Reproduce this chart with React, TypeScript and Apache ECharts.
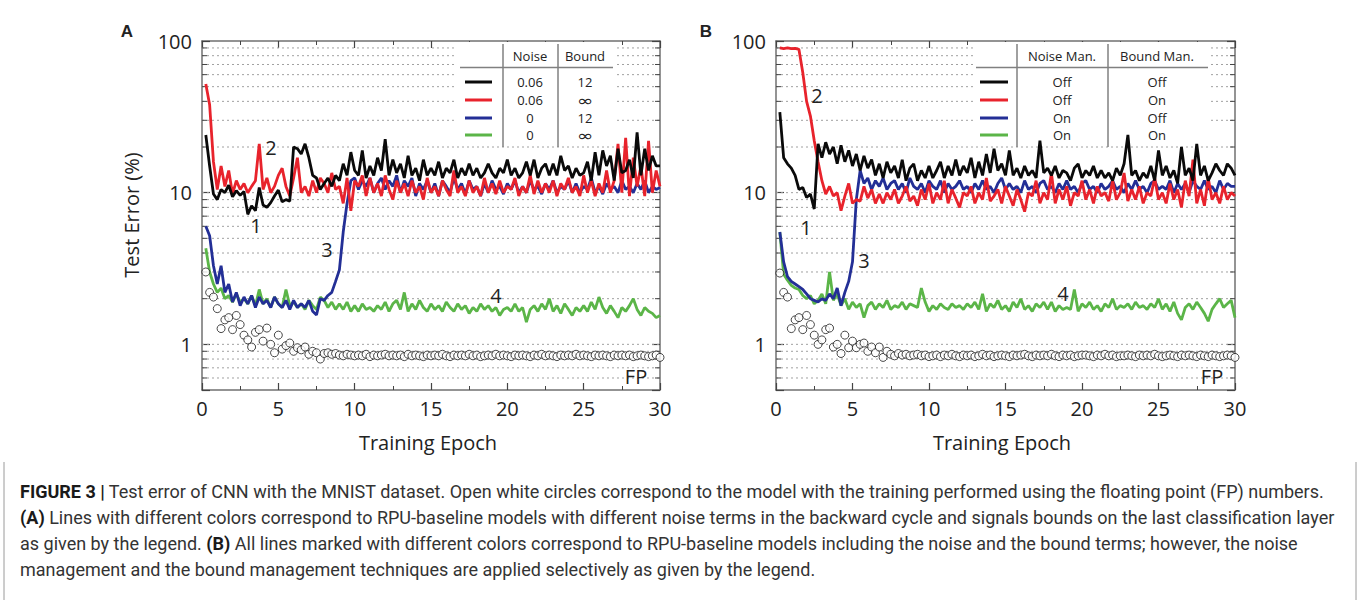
import React, { useEffect, useRef } from 'react';
import * as echarts from 'echarts';

// ---------- data (epochs 0.25 .. 30 step 0.25) ----------
const epochs: number[] = Array.from({ length: 120 }, (_, i) => (i + 1) * 0.25);

// Panel A
const aBlack = [
  24, 15, 9.8, 9.0, 10.5, 10.0, 11.2, 9.4, 10.3, 9.6,
  10.2, 7.2, 8.2, 7.6, 10.8, 8.3, 8.0, 8.6, 9.5, 10.4,
  8.7, 9.0, 8.8, 20.0, 19.5, 18.0, 21.0, 17.0, 13.0, 12.5,
  10.5, 11.5, 12.5, 11.0, 13.0, 12.0, 15.5, 13.0, 18.5, 14.0,
  13.0, 19.0, 12.5, 15.0, 13.0, 17.0, 14.0, 22.5, 13.0, 16.5,
  13.5, 15.5, 12.5, 17.5, 13.0, 14.5, 12.0, 16.5, 13.0, 14.5,
  13.0, 16.0, 12.5, 14.5, 13.5, 16.5, 12.5, 14.5, 13.0, 15.5,
  13.0, 14.5, 12.5, 13.5, 15.5, 13.5, 12.5, 14.5, 13.5, 16.5,
  13.0, 14.5, 12.5, 13.5, 16.0, 13.0, 16.5, 12.5, 14.5, 15.5,
  13.0, 15.5, 13.0, 17.5, 14.0, 15.0, 12.5, 14.5, 13.0, 13.5,
  16.0, 12.0, 18.5, 13.0, 19.0, 15.0, 17.5, 12.0, 19.5, 13.5,
  14.0, 16.5, 12.5, 25.0, 13.0, 19.5, 14.0, 17.5, 15.0, 15.0,
];
const aRed = [
  52, 38, 16, 10.5, 15, 11, 14, 9.8, 12, 10.5,
  11.5, 10, 11, 12, 21, 10.5, 12.5, 10, 11, 13,
  14.5, 11, 9.5, 12.5, 17, 10, 11, 9.5, 12, 10,
  12.5, 11.5, 10, 13.5, 10.5, 11, 8.5, 12.5, 7.6, 12,
  11, 13, 9.5, 12.5, 10, 11.5, 9.5, 13, 10.5, 9,
  12, 10, 11.5, 9.5, 12, 10, 11, 9, 12.5, 10,
  11, 9.5, 12, 10.5, 9.5, 14, 10, 11, 9.5, 12,
  10, 11, 9.5, 12.5, 10, 11.5, 9.8, 12, 10, 11,
  10.5, 12.5, 9.5, 11, 10, 13, 9.8, 12, 10, 11.5,
  10, 12, 9.5, 11.5, 10.5, 12.5, 10, 11, 9.5, 13,
  10, 12, 9.5, 11.5, 10, 14, 10, 12, 21, 10,
  23, 9.5, 17, 11, 15, 9.5, 22, 10, 14, 11,
];
const aBlue = [
  6, 5.2, 3.3, 2.5, 3.3, 2.2, 2.5, 1.9, 2.2, 1.8,
  2.05, 1.85, 2.1, 1.75, 2.05, 1.85, 1.95, 1.75, 2.05, 1.85,
  1.75, 1.95, 1.7, 1.95, 1.75, 1.85, 1.75, 1.95, 1.65, 1.56,
  2.0, 1.95, 2.1, 2.2, 2.6, 3.1, 5.5, 8.5, 12.0, 12.5,
  10.5, 12, 11, 12.5, 10, 11.5, 12.5, 10.5, 12, 11,
  13, 10, 12, 11, 12.5, 9.5, 11.5, 10.5, 12, 10,
  11.5, 9.5, 12, 11, 10, 12.5, 10.5, 11.5, 9.8, 12,
  10.5, 11, 9.5, 11.5, 10, 12, 10.5, 11, 9.8, 11.5,
  10.5, 12, 10, 11, 10, 12, 10.5, 11, 9.8, 11.5,
  10.5, 12, 10, 11, 10.5, 12, 10, 11.5, 10, 11,
  10.5, 12.5, 10, 11, 9.8, 11.5, 10.5, 11, 10, 12,
  10.5, 11, 10, 11.5, 10.5, 12, 10, 11, 10.5, 10.8,
];
const aGreen = [
  4.3, 3.0, 2.5, 2.2, 2.35, 2.0, 2.1, 1.9, 2.15, 1.9,
  2.0, 1.85, 2.1, 1.8, 2.3, 1.85, 2.0, 1.75, 2.05, 1.85,
  1.75, 2.3, 1.8, 1.9, 1.75, 1.85, 1.7, 1.95, 1.8, 1.7,
  2.05, 1.95, 1.75, 1.9, 1.7, 1.85, 1.7, 1.9, 1.65, 1.8,
  1.65, 1.85, 1.7, 1.75, 1.65, 1.8, 1.7, 1.9, 1.65, 1.85,
  1.95, 1.7, 2.2, 1.65, 1.85, 1.7, 1.95, 1.75, 1.65, 1.85,
  1.7, 1.8, 1.65, 1.9, 1.75, 1.65, 1.85, 1.7, 1.8, 1.6,
  1.75, 1.65, 1.85, 1.7, 1.8, 1.65, 1.75, 1.55, 1.7, 1.75,
  1.65, 1.85, 1.65, 1.75, 1.4, 1.7, 1.8, 1.65, 1.85, 1.7,
  2.0, 1.65, 1.8, 1.6, 1.85, 1.7, 1.55, 1.75, 1.65, 1.8,
  1.65, 1.9, 1.7, 2.05, 1.75, 1.6, 1.8, 1.65, 1.5, 1.75,
  1.65, 1.8, 2.0, 1.7, 1.55, 1.75, 1.65, 1.6, 1.5, 1.55,
];
const aFP = [
  3.0, 2.2, 2.05, 1.72, 1.27, 1.45, 1.5, 1.25, 1.55, 1.35,
  1.15, 1.07, 0.96, 1.2, 1.25, 1.05, 1.28, 1.0, 0.88, 1.15,
  0.93, 0.98, 1.02, 0.9, 0.95, 0.92, 0.96, 0.86, 0.9, 0.88,
  0.8, 0.87, 0.88, 0.86, 0.87, 0.85, 0.84, 0.86, 0.85, 0.84,
  0.85, 0.84, 0.86, 0.83, 0.85, 0.84, 0.85, 0.86, 0.84, 0.85,
  0.84, 0.85, 0.83, 0.86, 0.84, 0.85, 0.84, 0.83, 0.85, 0.84,
  0.85, 0.84, 0.86, 0.84, 0.83, 0.85, 0.84, 0.85, 0.84, 0.86,
  0.84, 0.85, 0.83, 0.84, 0.85, 0.84, 0.86, 0.84, 0.85, 0.84,
  0.83, 0.85, 0.84, 0.85, 0.84, 0.83, 0.85, 0.84, 0.86, 0.84,
  0.85, 0.84, 0.83, 0.85, 0.84, 0.85, 0.84, 0.86, 0.84, 0.85,
  0.84, 0.83, 0.85, 0.84, 0.85, 0.84, 0.83, 0.85, 0.84, 0.85,
  0.84, 0.85, 0.83, 0.84, 0.85, 0.84, 0.83, 0.84, 0.85, 0.82,
];

// Panel B
const bBlack = [
  34, 17, 15.5, 14.5, 13, 10.5, 10.8, 9.3, 9.8, 7.8,
  21, 17, 21.5, 18, 20, 15.5, 20.5, 16, 19, 15,
  18, 14, 17.5, 14.5, 16.5, 13, 15.5, 12.5, 16, 13.5,
  15, 12.5, 16.5, 12, 14.5, 15.5, 12, 14, 12.5, 15,
  12.5, 14, 16, 12.5, 15, 13, 16.5, 13, 15, 13.5,
  17, 12.5, 16, 13, 18, 13.5, 19.5, 14, 15.5, 13,
  19, 13, 14.5, 12.5, 15, 13, 14, 12.5, 22, 13.5,
  14.5, 13, 15, 12.5, 14, 13.5, 12, 14.5, 15.5, 12.5,
  14, 13, 15, 12.5, 14, 12.5, 13.5, 12, 14.5, 13,
  15.5, 24, 13, 14, 12, 13.5, 12.5, 15, 12, 19,
  13, 15, 12.5, 14, 11.5, 20, 13, 14.5, 12, 21,
  13, 15, 12, 13.5, 15.5, 14, 13, 15.5, 14.5, 13,
];
const bRed = [
  90, 89, 90, 89, 89.5, 88, 62, 40, 32, 22,
  16, 12, 9.8, 11, 9.5, 10, 7.6, 9.5, 11.5, 8.5,
  9, 8.8, 11, 9.2, 10.5, 8.5, 9.8, 8.5, 10, 9,
  10.5, 8.5, 9.5, 11, 8.8, 9.5, 8.2, 10.5, 9, 11.5,
  8.5, 10, 9, 12, 8.5, 10.5, 9.2, 8, 10, 9.5,
  11, 8.5, 10, 9, 12.5, 8.8, 9.5, 10.5, 8.5, 11,
  9.5, 8.2, 10.5, 9, 7.5, 10, 9.5, 12, 8.5, 10,
  9, 13.5, 8.5, 10.5, 9, 11, 8.2, 10, 9.5, 12,
  9, 10.5, 8.5, 11, 9.5, 10, 8.8, 12, 9, 10,
  13.5, 8.8, 10.5, 9, 11, 8.5, 10, 9.5, 12.5, 9,
  10, 8.5, 11.5, 9, 10.5, 8, 12, 9.5, 16.5, 8.5,
  10.5, 8.2, 12.5, 9, 10, 8.5, 11, 9, 10, 9.5,
];
const bBlue = [
  5.5, 3.5, 2.8, 2.6, 2.5, 2.4, 2.3, 2.15, 2.0, 1.95,
  1.9, 2.0, 1.95, 2.15, 2.0, 2.35, 1.8, 2.2, 2.6, 3.5,
  9, 14, 11.5, 12.5, 10.5, 12, 11, 12.5, 10.5, 11.5,
  12, 10.5, 11.5, 10, 12.5, 11, 10.5, 11.5, 10, 12,
  11, 10.5, 12, 10, 11.5, 10.5, 11, 12, 10.5, 11,
  10, 11.5, 10.5, 12, 10.5, 11, 10, 11.5, 12.5, 10.5,
  11.5, 10.5, 11, 10, 12, 10.5, 11, 10, 11.5, 12,
  10.5, 11, 10, 11.5, 10.5, 12, 10.5, 11, 10, 11.5,
  12, 10.5, 11, 10, 11.5, 10.5, 11, 12, 10.5, 11,
  10, 11.5, 10.5, 12, 10.5, 11, 10, 11.5, 12, 10.5,
  11, 10.5, 12, 10, 11.5, 10.5, 11.5, 10, 12, 11,
  10.5, 12, 10.5, 11, 10, 12, 10.5, 11.5, 11, 11,
];
const bGreen = [
  5.5, 2.9, 2.65, 2.45, 2.35, 2.3, 2.1, 2.0, 2.1, 1.85,
  1.95, 2.15, 1.85, 3.0, 1.95, 2.15, 1.8, 2.0, 1.7, 1.9,
  1.75, 1.85, 1.5, 1.8, 1.9, 1.7, 1.85, 1.75, 1.95, 1.7,
  1.8, 1.75, 1.9, 1.7, 1.85, 1.8, 1.75, 2.35, 1.9, 1.65,
  1.8, 1.7, 1.85, 1.75, 1.7, 1.85, 1.75, 1.8, 1.7, 1.85,
  1.75, 1.9, 1.7, 2.15, 1.65, 1.85, 1.75, 1.95, 1.7, 1.8,
  1.65, 1.9, 1.75, 2.0, 1.7, 1.8, 1.65, 1.85, 1.75, 1.9,
  1.7, 1.9, 1.65, 1.8, 1.7, 1.75, 1.7, 2.3, 1.65, 1.85,
  1.75, 1.9, 1.7, 1.8, 1.65, 1.85, 1.75, 2.0, 1.7, 1.8,
  1.75, 1.85, 1.7, 1.9, 1.75, 1.8, 1.7, 1.85, 1.75, 2.0,
  1.7, 1.85, 1.65, 1.9, 1.6, 1.45, 1.75, 1.85, 1.7, 1.9,
  1.75, 1.6, 1.42, 1.7, 1.85, 2.0, 1.75, 1.85, 1.95, 1.5,
];
const bFP = [
  2.95, 2.2, 2.05, 1.27, 1.45, 1.5, 1.25, 1.55, 1.35, 1.15,
  1.0, 1.07, 1.25, 1.28, 0.96, 1.0, 0.87, 1.15, 0.95, 1.05,
  0.95, 1.0, 1.02, 0.9, 0.96, 0.88, 0.96, 0.82, 0.9, 0.86,
  0.84, 0.87, 0.85, 0.86, 0.84, 0.85, 0.86, 0.84, 0.85, 0.83,
  0.84, 0.85, 0.83, 0.85, 0.84, 0.86, 0.84, 0.83, 0.85, 0.84,
  0.85, 0.83, 0.84, 0.86, 0.84, 0.85, 0.83, 0.84, 0.85, 0.84,
  0.83, 0.85, 0.84, 0.85, 0.86, 0.84, 0.83, 0.85, 0.84, 0.85,
  0.84, 0.86, 0.84, 0.83, 0.85, 0.84, 0.85, 0.83, 0.84, 0.85,
  0.85, 0.84, 0.83, 0.85, 0.84, 0.86, 0.84, 0.85, 0.83, 0.84,
  0.84, 0.85, 0.84, 0.83, 0.85, 0.84, 0.85, 0.84, 0.86, 0.84,
  0.83, 0.84, 0.85, 0.84, 0.83, 0.85, 0.84, 0.85, 0.84, 0.83,
  0.85, 0.84, 0.83, 0.85, 0.84, 0.83, 0.84, 0.85, 0.84, 0.82,
];

// axes / grid values
const xTicks = [0, 5, 10, 15, 20, 25, 30];
const yMajor = [1, 10, 100];
const yGridValues = [0.6, 0.7, 0.8, 0.9, 1, 2, 3, 4, 5, 6, 7, 8, 9, 10, 20, 30, 40, 50, 60, 70, 80, 90];

// legend tables
const legendAHeader = ['Noise', 'Bound'];
const legendARows = [['0.06', '12'], ['0.06', '∞'], ['0', '12'], ['0', '∞']];
const legendBHeader = ['Noise Man.', 'Bound Man.'];
const legendBRows = [['Off', 'Off'], ['Off', 'On'], ['On', 'Off'], ['On', 'On']];

const captionLines = [
  '{b|FIGURE 3 |} Test error of CNN with the MNIST dataset. Open white circles correspond to the model with the training performed using the floating point (FP) numbers.',
  '{b|(A)} Lines with different colors correspond to RPU-baseline models with different noise terms in the backward cycle and signals bounds on the last classification layer',
  'as given by the legend. {b|(B)} All lines marked with different colors correspond to RPU-baseline models including the noise and the bound terms; however, the noise',
  'management and the bound management techniques are applied selectively as given by the legend.',
];

// ---------- styling ----------
const COLORS = { black: '#0a0a0a', red: '#e8232c', blue: '#232f96', green: '#5bb548' };
const seriesColors = [COLORS.black, COLORS.red, COLORS.blue, COLORS.green];
const FONT = "'Open Sans', 'Noto Sans', sans-serif";
const CAP_FONT = "Roboto, 'Liberation Sans', sans-serif";
const AXIS = '#707070';
const TXT = '#222';

const GRID_A = { left: 202, top: 41, width: 458, height: 349 };
const GRID_B = { left: 776, top: 41, width: 459, height: 349 };

const pair = (arr: number[]) => arr.map((v, i) => [epochs[i], v]);

function xAxis(gridIndex: number, top: boolean) {
  return {
    type: 'value', gridIndex, min: 0, max: 30, interval: 5,
    position: top ? 'top' : 'bottom',
    axisLine: { show: true, onZero: false, lineStyle: { color: AXIS, width: 1.5 } },
    axisTick: { show: true, inside: true, length: 7, lineStyle: { color: '#444', width: 1.2 } },
    minorTick: { show: true, splitNumber: 2, length: 4, lineStyle: { color: '#444', width: 1 } },
    axisLabel: {
      show: !top, color: TXT, fontSize: 20, fontFamily: FONT, margin: 8,
      formatter: (v: number) => (xTicks.includes(Math.round(v)) ? String(Math.round(v)) : ''),
    },
    splitLine: { show: false },
  };
}
function yAxis(gridIndex: number, right: boolean) {
  return {
    type: 'log', logBase: 10, gridIndex, min: 0.5, max: 100,
    position: right ? 'right' : 'left',
    axisLine: { show: true, onZero: false, lineStyle: { color: AXIS, width: 1.5 } },
    axisTick: { show: true, inside: true, length: 8, lineStyle: { color: '#444', width: 1.2 } },
    axisLabel: {
      show: !right, color: TXT, fontSize: 20, fontFamily: FONT, margin: 10,
      formatter: (v: number) => {
        const m = yMajor.find((t) => Math.abs(v - t) < 1e-6 * t);
        return m ? String(m) : '';
      },
    },
    splitLine: { show: false },
  };
}

const gridRender = (params: any, api: any) => {
  const cs = params.coordSys as any;
  const v = api.value(1);
  const y = api.coord([0, v])[1];
  const lg = Math.log10(v);
  const major = Math.abs(lg - Math.round(lg)) < 1e-6;
  const children: any[] = [
    { type: 'line', shape: { x1: cs.x, y1: y, x2: cs.x + cs.width, y2: y }, style: { stroke: '#a0a0a0', lineWidth: 1, lineDash: [2, 3] } },
  ];
  if (!major) {
    children.push({ type: 'line', shape: { x1: cs.x, y1: y, x2: cs.x + 5, y2: y }, style: { stroke: '#444', lineWidth: 1 } });
    children.push({ type: 'line', shape: { x1: cs.x + cs.width - 5, y1: y, x2: cs.x + cs.width, y2: y }, style: { stroke: '#444', lineWidth: 1 } });
  }
  return { type: 'group', children };
};

function panelSeries(xi: number, yi: number, lines: number[][], fp: number[], order: number[]) {
  const out: any[] = [
    {
      type: 'custom', xAxisIndex: xi, yAxisIndex: yi, silent: true, z: 1,
      data: yGridValues.map((v) => [0, v]), encode: { x: 0, y: 1 },
      renderItem: gridRender,
    },
  ];
  order.forEach((k) => {
    out.push({
      type: 'line', xAxisIndex: xi, yAxisIndex: yi, data: pair(lines[k]), symbol: 'none', showSymbol: false,
      lineStyle: { color: seriesColors[k], width: 2.8 }, itemStyle: { color: seriesColors[k] }, z: 3, silent: true,
    });
  });
  out.push({
    type: 'scatter', xAxisIndex: xi, yAxisIndex: yi, data: pair(fp), symbol: 'circle', symbolSize: 8,
    itemStyle: { color: '#ffffff', borderColor: '#1a1a1a', borderWidth: 1 }, z: 4, silent: true,
  });
  return out;
}

const txt = (text: string, x: number, y: number, size: number, extra: any = {}) => ({
  type: 'text', x, y, z: 10, silent: true,
  style: { text, fill: TXT, fontSize: size, fontFamily: FONT, align: 'center', verticalAlign: 'middle', ...extra },
});
const seg = (x1: number, y1: number, x2: number, y2: number, stroke: string, lineWidth: number, z = 8) => ({
  type: 'line', z, silent: true, shape: { x1, y1, x2, y2 }, style: { stroke, lineWidth },
});
const cellText = (s: string, x: number, y: number) =>
  s === '∞'
    ? { ...txt(s, x, y, 14, { fontFamily: "'DejaVu Sans', sans-serif" }), scaleX: 1.45, scaleY: 1.1 }
    : txt(s, x, y, 13);

function legendTable(o: { boxX: number; boxW: number; lineX1: number; lineX2: number; v1: number; v2: number; ul1: number; ul2: number; c1: number; c2: number }, header: string[], rows: string[][]) {
  const rowY = [82, 100, 118, 135];
  const els: any[] = [
    { type: 'rect', z: 2, silent: true, shape: { x: o.boxX, y: 42, width: o.boxW, height: 100 }, style: { fill: '#ffffff' } },
    seg(o.ul1, 67.5, o.ul2, 67.5, '#808080', 1.5),
    seg(o.v1, 44, o.v1, 147, '#808080', 1.5),
    seg(o.v2, 44, o.v2, 147, '#808080', 1.5),
    txt(header[0], o.c1, 56, 13),
    txt(header[1], o.c2, 56, 13),
  ];
  rows.forEach((r, i) => {
    els.push(seg(o.lineX1, rowY[i], o.lineX2, rowY[i], seriesColors[i], 3));
    els.push(cellText(r[0], o.c1, rowY[i]));
    els.push(cellText(r[1], o.c2, rowY[i]));
  });
  return els;
}

export default function App() {
  const ref = useRef<HTMLDivElement>(null);
  useEffect(() => {
    if (!ref.current) return;
    const chart = echarts.init(ref.current, undefined, { renderer: 'svg' });

    const graphics: any[] = [
      txt('A', 127, 31, 17, { fontWeight: 'bold', fontFamily: "'Liberation Sans', Arial, sans-serif" }),
      txt('B', 706, 31, 17, { fontWeight: 'bold', fontFamily: "'Liberation Sans', Arial, sans-serif" }),
      { ...txt('Test Error (%)', 131, 215, 20), rotation: Math.PI / 2 },
      txt('Training Epoch', 428, 442, 20),
      txt('Training Epoch', 1002, 442, 20),
      // curve annotations panel A
      txt('2', 271, 147, 20), txt('1', 256, 225, 20), txt('3', 327, 249, 20), txt('4', 496, 295, 20), txt('FP', 636, 376, 20),
      // curve annotations panel B
      txt('2', 817, 95, 20), txt('1', 806, 227, 20), txt('3', 864, 260, 20), txt('4', 1063, 293, 20), txt('FP', 1212, 376, 20),
      ...legendTable({ boxX: 457, boxW: 157, lineX1: 465, lineX2: 492, v1: 503, v2: 558, ul1: 460, ul2: 613, c1: 530, c2: 585 }, legendAHeader, legendARows),
      ...legendTable({ boxX: 976, boxW: 232, lineX1: 980, lineX2: 1008, v1: 1017, v2: 1108, ul1: 976, ul2: 1208, c1: 1062, c2: 1157 }, legendBHeader, legendBRows),
      // caption frame
      seg(4, 462, 4, 600, '#9a9a9a', 1, 1),
      seg(1356, 462, 1356, 600, '#9a9a9a', 1, 1),
    ];
    captionLines.forEach((line, i) => {
      graphics.push({
        type: 'text', x: 20, y: 491 + i * 26, z: 10, silent: true,
        style: {
          text: line, fill: '#333333', fontSize: 18, fontFamily: CAP_FONT, align: 'left', verticalAlign: 'middle',
          rich: { b: { fontWeight: 'bold', fontSize: 18, fontFamily: CAP_FONT, fill: '#1a1a1a' } },
        },
      });
    });

    chart.setOption({
      animation: false,
      backgroundColor: '#ffffff',
      grid: [
        { ...GRID_A, containLabel: false },
        { ...GRID_B, containLabel: false },
      ],
      xAxis: [xAxis(0, false), xAxis(0, true), xAxis(1, false), xAxis(1, true)],
      yAxis: [yAxis(0, false), yAxis(0, true), yAxis(1, false), yAxis(1, true)],
      series: [
        ...panelSeries(0, 0, [aBlack, aRed, aBlue, aGreen], aFP, [3, 2, 1, 0]),
        ...panelSeries(2, 2, [bBlack, bRed, bBlue, bGreen], bFP, [3, 2, 1, 0]),
      ],
      graphic: graphics,
    });
    return () => chart.dispose();
  }, []);
  return (
    <div style={{ position: 'absolute', left: 0, top: 0, width: 1360, height: 600, background: '#fff' }}>
      <div ref={ref} style={{ width: 1360, height: 600 }} />
    </div>
  );
}
